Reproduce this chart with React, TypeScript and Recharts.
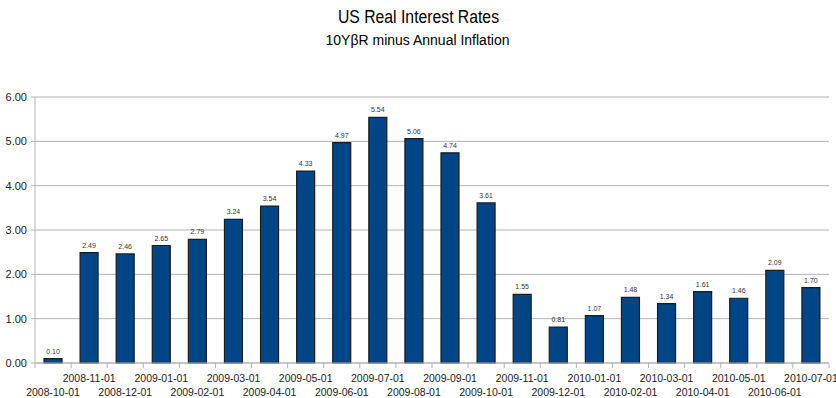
import {
  Bar,
  BarChart,
  CartesianGrid,
  LabelList,
  XAxis,
  YAxis,
} from "recharts";

const months = [
  "2008-10-01", "2008-11-01", "2008-12-01", "2009-01-01", "2009-02-01",
  "2009-03-01", "2009-04-01", "2009-05-01", "2009-06-01", "2009-07-01",
  "2009-08-01", "2009-09-01", "2009-10-01", "2009-11-01", "2009-12-01",
  "2010-01-01", "2010-02-01", "2010-03-01", "2010-04-01", "2010-05-01",
  "2010-06-01", "2010-07-01",
];

const realRates = [
  0.1, 2.49, 2.46, 2.65, 2.79, 3.24, 3.54, 4.33, 4.97, 5.54, 5.06,
  4.74, 3.61, 1.55, 0.81, 1.07, 1.48, 1.34, 1.61, 1.46, 2.09, 1.7,
];

const yTicks = [0, 1, 2, 3, 4, 5, 6];

const data = months.map((m, i) => ({ month: m, rate: realRates[i] }));

const FONT = "'Liberation Sans', Arial, sans-serif";
const GRID = "#b3b3b3";

// two-row staggered date labels, tick marks sit on the category boundaries
const DateTick = (props: any) => {
  const { x, y, payload, index } = props;
  const idx = payload?.index ?? index ?? 0;
  const half = payload?.offset ?? 18.05;
  const row = idx % 2 === 1 ? 19 : 33;
  return (
    <g>
      <line x1={x - half} x2={x - half} y1={y} y2={y + 5} stroke={GRID} />
      {idx === months.length - 1 && (
        <line x1={x + half} x2={x + half} y1={y} y2={y + 5} stroke={GRID} />
      )}
      <text
        x={x}
        y={y + row}
        textAnchor="middle"
        fontSize={10.5}
        fontFamily={FONT}
        fill="#222"
      >
        {payload.value}
      </text>
    </g>
  );
};

function App() {
  return (
    <div style={{ position: "relative", width: 836, height: 398, background: "#fff" }}>
      <style>{"body{margin:0}"}</style>
      <svg
        width={836}
        height={60}
        style={{ position: "absolute", left: 0, top: 0, pointerEvents: "none" }}
      >
        <text
          x={418.5}
          y={22.7}
          textAnchor="middle"
          fontSize={18}
          fontFamily={FONT}
          textLength={161}
          lengthAdjust="spacingAndGlyphs"
          fill="#000"
        >
          US Real Interest Rates
        </text>
        <text
          x={417.5}
          y={45.3}
          textAnchor="middle"
          fontSize={14}
          fontFamily={FONT}
          fill="#000"
        >
          10YβR minus Annual Inflation
        </text>
      </svg>
      <BarChart
        width={836}
        height={398}
        data={data}
        margin={{ top: 97, right: 7, left: 0, bottom: 0 }}
        barSize={18}
      >
        <CartesianGrid vertical={false} stroke={GRID} />
        <XAxis
          dataKey="month"
          interval={0}
          height={35}
          tickSize={0}
          tickMargin={0}
          tickLine={false}
          axisLine={{ stroke: GRID }}
          tick={<DateTick />}
        />
        <YAxis
          domain={[0, 6]}
          ticks={yTicks}
          width={35}
          tickSize={4}
          tickMargin={4}
          tickLine={{ stroke: GRID }}
          axisLine={{ stroke: GRID }}
          tickFormatter={(v: number) => v.toFixed(2)}
          tick={{ fontSize: 11, fontFamily: FONT, fill: "#222" }}
        />
        <YAxis
          yAxisId="right"
          orientation="right"
          domain={[0, 6]}
          width={0}
          tick={false}
          tickLine={false}
          axisLine={{ stroke: GRID }}
        />
        <Bar
          dataKey="rate"
          fill="#004586"
          stroke="#1c1c1c"
          strokeWidth={1.2}
          isAnimationActive={false}
        >
          <LabelList
            dataKey="rate"
            position="top"
            offset={5}
            formatter={(v: any) => Number(v).toFixed(2)}
            style={{ fontSize: 7, fontFamily: FONT, fill: "#333" }}
          />
        </Bar>
      </BarChart>
    </div>
  );
}

export default App;
